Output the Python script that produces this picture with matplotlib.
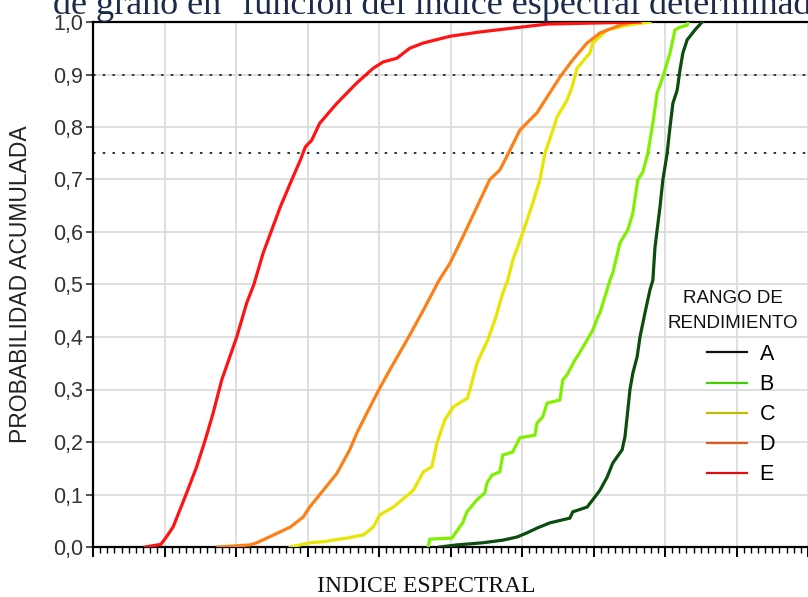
import numpy as np
import matplotlib
matplotlib.use('Agg')
import matplotlib.pyplot as plt
from matplotlib.lines import Line2D
from matplotlib.ticker import FuncFormatter, MultipleLocator

# cumulative curves, x in spectral-index units (one unit per major tick)
a_x = [4.85, 5.09, 5.45, 5.73, 5.93, 6.07, 6.21, 6.39, 6.67, 6.71, 6.91, 6.99, 7.09,
       7.19, 7.27, 7.40, 7.44, 7.47, 7.51, 7.55, 7.61, 7.65, 7.72, 7.79, 7.83, 7.86,
       7.93, 7.97, 8.03, 8.07, 8.11, 8.17, 8.21, 8.25, 8.31, 8.42, 8.52]
a_y = [0.0, 0.004, 0.008, 0.013, 0.019, 0.027, 0.036, 0.046, 0.055, 0.067, 0.076, 0.09,
       0.108, 0.133, 0.16, 0.185, 0.21, 0.248, 0.30, 0.331, 0.362, 0.40, 0.446, 0.49,
       0.508, 0.571, 0.648, 0.699, 0.75, 0.80, 0.845, 0.87, 0.909, 0.941, 0.966, 0.985, 1.0]

b_x = [4.69, 4.71, 5.02, 5.17, 5.23, 5.37, 5.48, 5.51, 5.58, 5.69, 5.73, 5.87, 5.97,
       6.18, 6.21, 6.29, 6.35, 6.53, 6.57, 6.63, 6.74, 6.81, 6.91, 6.99, 7.06, 7.09,
       7.19, 7.23, 7.27, 7.37, 7.48, 7.55, 7.62, 7.69, 7.76, 7.83, 7.89, 7.97, 8.07,
       8.14, 8.21, 8.31, 8.32]
b_y = [0.0, 0.015, 0.017, 0.046, 0.067, 0.09, 0.103, 0.122, 0.137, 0.143, 0.175, 0.181,
       0.208, 0.213, 0.236, 0.248, 0.274, 0.28, 0.318, 0.328, 0.356, 0.371, 0.394, 0.413,
       0.438, 0.446, 0.49, 0.508, 0.522, 0.579, 0.604, 0.636, 0.699, 0.714, 0.75, 0.807,
       0.865, 0.895, 0.941, 0.985, 0.99, 0.994, 1.0]

c_x = [2.76, 3.03, 3.22, 3.55, 3.78, 3.92, 4.01, 4.20, 4.48, 4.62, 4.74, 4.81, 4.92,
       5.04, 5.24, 5.37, 5.41, 5.52, 5.62, 5.73, 5.80, 5.87, 6.01, 6.15, 6.25, 6.32,
       6.42, 6.49, 6.63, 6.70, 6.77, 6.95, 6.99, 7.19, 7.47, 7.79]
c_y = [0.0, 0.008, 0.01, 0.017, 0.023, 0.038, 0.061, 0.076, 0.108, 0.143, 0.153, 0.198,
       0.242, 0.267, 0.284, 0.35, 0.362, 0.394, 0.432, 0.483, 0.508, 0.546, 0.598, 0.655,
       0.699, 0.75, 0.789, 0.819, 0.851, 0.876, 0.912, 0.941, 0.96, 0.985, 0.994, 1.0]

d_x = [1.75, 2.20, 2.29, 2.48, 2.76, 2.94, 3.03, 3.22, 3.41, 3.59, 3.69, 3.83, 4.00,
       4.15, 4.39, 4.62, 4.84, 4.99, 5.17, 5.37, 5.55, 5.69, 5.81, 5.97, 6.21, 6.35,
       6.53, 6.71, 6.91, 7.09, 7.37, 7.55]
d_y = [0.0, 0.004, 0.008, 0.02, 0.038, 0.057, 0.076, 0.108, 0.14, 0.185, 0.217, 0.255,
       0.30, 0.337, 0.394, 0.451, 0.508, 0.54, 0.59, 0.648, 0.70, 0.718, 0.75, 0.794,
       0.827, 0.857, 0.895, 0.928, 0.96, 0.979, 0.994, 1.0]

e_x = [0.73, 0.95, 1.03, 1.12, 1.31, 1.45, 1.57, 1.68, 1.80, 2.01, 2.15, 2.25, 2.38,
       2.50, 2.62, 2.76, 2.90, 2.97, 3.06, 3.17, 3.41, 3.69, 3.92, 4.06, 4.25, 4.43,
       4.62, 5.00, 5.41, 5.97, 6.35, 7.65]
e_y = [0.0, 0.005, 0.02, 0.038, 0.103, 0.153, 0.204, 0.255, 0.318, 0.40, 0.465, 0.50,
       0.56, 0.604, 0.648, 0.693, 0.737, 0.762, 0.775, 0.807, 0.845, 0.884, 0.912, 0.924,
       0.931, 0.950, 0.960, 0.973, 0.981, 0.99, 0.996, 1.0]

labels = ['A', 'B', 'C', 'D', 'E']
ref_levels = [0.9, 0.75]

curve_colors = ['#0b4d0e', '#7ff000', '#e6e600', '#ff7f17', '#ff1414']
legend_colors = ['#111111', '#44cc00', '#bcbc00', '#dd5a22', '#e01010']

fig = plt.figure(figsize=(8.08, 5.97), dpi=100)
ax = fig.add_axes([93 / 808, 50 / 597, 1 - 93 / 808, 525 / 597])

series = [(a_x, a_y), (b_x, b_y), (c_x, c_y), (d_x, d_y), (e_x, e_y)]
for (xs, ys), col in zip(series, curve_colors):
    ax.plot(xs, ys, color=col, lw=2.3, solid_joinstyle='miter', zorder=3)

for lev in ref_levels:
    ax.axhline(lev, color='#333333', lw=1.4, ls=(0, (1.3, 3.7)), zorder=2)

ax.set_xlim(0, 10)
ax.set_ylim(0, 1)
ax.xaxis.set_major_locator(MultipleLocator(1))
ax.xaxis.set_minor_locator(MultipleLocator(0.1))
ax.yaxis.set_major_locator(MultipleLocator(0.1))
ax.xaxis.set_major_formatter(FuncFormatter(lambda v, p: ''))
ax.yaxis.set_major_formatter(FuncFormatter(lambda v, p: ('%.1f' % v).replace('.', ',')))

ax.grid(True, which='major', color='#d9d9d9', lw=1.2, zorder=0)
ax.set_axisbelow(True)

ax.tick_params(axis='x', which='major', direction='out', length=7, width=1.4, color='black')
ax.tick_params(axis='x', which='minor', direction='out', length=4, width=1.0, color='black')
ax.tick_params(axis='y', which='major', direction='out', length=5, width=1.2,
               color='#333333', labelsize=15.5, labelcolor='#333333', pad=2)
for lab in ax.get_yticklabels():
    lab.set_fontfamily('Liberation Sans')

for side in ['left', 'bottom', 'top']:
    ax.spines[side].set_linewidth(1.6)
    ax.spines[side].set_color('black')
ax.spines['right'].set_visible(False)

# legend
handles = [Line2D([], [], color=c, lw=1.6) for c in legend_colors]
leg = ax.legend(handles, labels, loc='upper left', bbox_to_anchor=(707 / 808, 1 - 344 / 597),
                bbox_transform=fig.transFigure, frameon=False, handlelength=1.85,
                handletextpad=0.6, labelspacing=0.42, borderpad=0, borderaxespad=0,
                prop={'family': 'Liberation Sans', 'size': 15.5})
fig.text(733 / 808, 1 - 311 / 597, 'RANGO DE\nRENDIMIENTO', ha='center', va='center',
         fontsize=13.5, family='Liberation Sans', color='#111111', linespacing=1.55)

fig.text(21 / 808, 1 - 284 / 597, 'PROBABILIDAD ACUMULADA', rotation=90, ha='center',
         va='center', fontsize=16.5, family='Liberation Sans', color='#222222')
fig.text(426 / 808, 1 - 586 / 597, 'INDICE ESPECTRAL', ha='center', va='center',
         fontsize=17, family='Liberation Serif', color='#111111')
fig.text(53 / 808, 1 - 14 / 597, 'de grano en \u2018función del índice espectral determinado',
         ha='left', va='baseline', fontsize=26, family='Liberation Serif', color='#1c2b4a')

fig.savefig('out.png', dpi=100)
